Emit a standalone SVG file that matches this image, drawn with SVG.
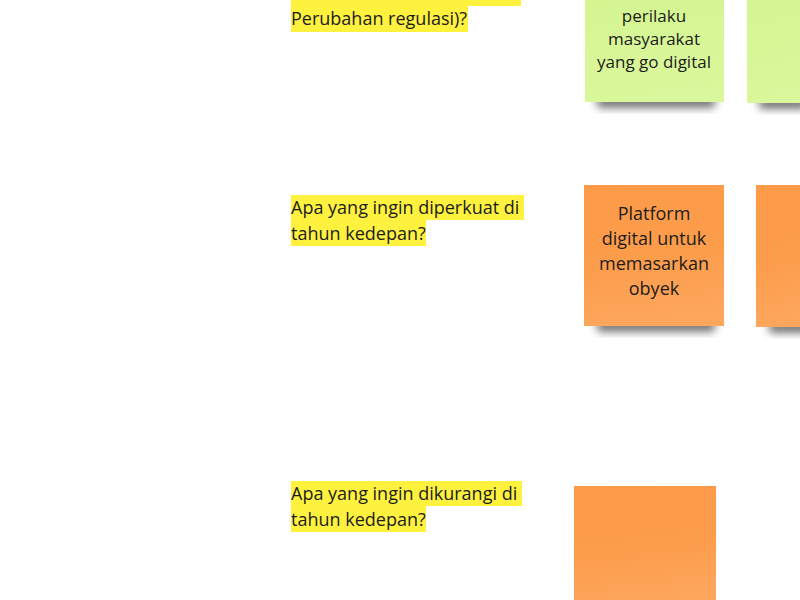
<svg xmlns="http://www.w3.org/2000/svg" width="800" height="600" viewBox="0 0 800 600">
<defs>
<filter id="sh" x="-20%" y="-50%" width="140%" height="200%"><feGaussianBlur stdDeviation="4"/></filter>
<linearGradient id="og" x1="0" y1="0" x2="0.15" y2="1"><stop offset="0" stop-color="#fc9a48"/><stop offset="0.6" stop-color="#fc9d4c"/><stop offset="1" stop-color="#fda65c"/></linearGradient>
<linearGradient id="gg" x1="0" y1="0" x2="0.15" y2="1"><stop offset="0" stop-color="#d4f590"/><stop offset="1" stop-color="#daf79b"/></linearGradient>
</defs>
<style>
.t{font-family:"Open Sans","Noto Sans",sans-serif;font-size:18px;fill:#1c1c1c}
.s{font-size:17px}
.c{text-anchor:middle}
.hl{fill:#fff23f}
.shd{fill:#000;opacity:0.55}
</style>
<rect width="800" height="600" fill="#fff"/>
<g id="q1">
<rect class="hl" x="291" y="0" width="230" height="6"/>
<rect class="hl" x="291" y="6" width="177" height="26"/>
<text class="t" x="291" y="25">Perubahan regulasi)?</text>
</g>
<g id="q2">
<rect class="hl" x="291" y="195" width="233" height="25"/>
<rect class="hl" x="291" y="220" width="135" height="26"/>
<text class="t" x="291" y="214">Apa yang ingin diperkuat di</text>
<text class="t" x="291" y="240">tahun kedepan?</text>
</g>
<g id="q3">
<rect class="hl" x="291" y="481" width="231" height="25"/>
<rect class="hl" x="291" y="506" width="135" height="26"/>
<text class="t" x="291" y="500">Apa yang ingin dikurangi di</text>
<text class="t" x="291" y="526">tahun kedepan?</text>
</g>
<g id="n1">
<rect class="shd" x="596" y="96" width="120" height="12" rx="6" filter="url(#sh)"/>
<rect x="585" y="-10" width="139" height="112" fill="url(#gg)"/>
<text class="t s c" x="654" y="22">perilaku</text>
<text class="t s c" x="654" y="45">masyarakat</text>
<text class="t s c" x="654" y="68">yang go digital</text>
</g>
<g id="n2">
<rect class="shd" x="758" y="97" width="50" height="12" rx="6" filter="url(#sh)"/>
<rect x="747" y="-10" width="60" height="113" fill="url(#gg)"/>
</g>
<g id="n3">
<rect class="shd" x="596" y="320" width="120" height="12" rx="6" filter="url(#sh)"/>
<rect x="584" y="185" width="140" height="141" fill="url(#og)"/>
<text class="t c" x="654" y="220">Platform</text>
<text class="t c" x="654" y="245">digital untuk</text>
<text class="t c" x="654" y="270">memasarkan</text>
<text class="t c" x="654" y="295">obyek</text>
</g>
<g id="n4">
<rect class="shd" x="768" y="321" width="50" height="12" rx="6" filter="url(#sh)"/>
<rect x="756" y="185" width="50" height="142" fill="url(#og)"/>
</g>
<g id="n5">
<rect x="574" y="486" width="142" height="120" fill="url(#og)"/>
</g>
<g id="connectors"/>
</svg>
